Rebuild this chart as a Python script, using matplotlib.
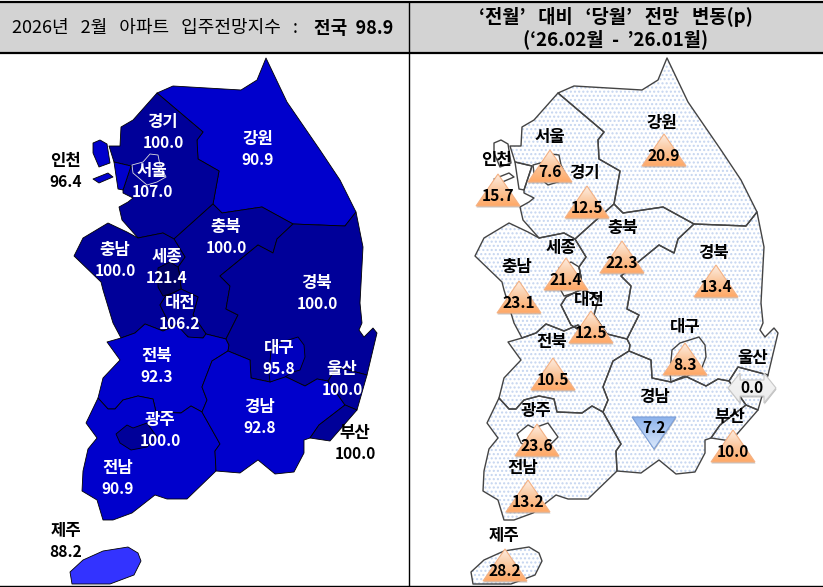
import numpy as np
import matplotlib
matplotlib.use("Agg")
import matplotlib.pyplot as plt
from matplotlib.colors import LinearSegmentedColormap
from matplotlib.patches import Polygon, Rectangle

plt.rcParams["font.family"] = ["Noto Sans CJK KR", "DejaVu Sans"]
plt.rcParams["hatch.linewidth"] = 1.0

# values
regions = ["경기", "강원", "서울", "인천", "충북", "충남", "세종", "경북", "대전",
           "전북", "대구", "울산", "경남", "부산", "광주", "전남", "제주"]
index_values = ["100.0", "90.9", "107.0", "96.4", "100.0", "100.0", "121.4", "100.0", "106.2",
                "92.3", "95.8", "100.0", "92.8", "100.0", "100.0", "90.9", "88.2"]
change_values = ["12.5", "20.9", "7.6", "15.7", "22.3", "23.1", "21.4", "13.4", "12.5",
                 "10.5", "8.3", "0.0", "7.2", "10.0", "23.6", "13.2", "28.2"]
change_dirs = ["up", "up", "up", "up", "up", "up", "up", "up", "up",
               "up", "up", "flat", "down", "up", "up", "up", "up"]

# map outlines in pixels of the left panel
shapes = {
    "강원": [(157,93),(173,86),(241,90),(257,80),(266,58),(287,102),(320,150),(340,180),(356,212),
             (345,226),(293,224),(262,207),(222,213),(213,204),(219,171),(198,159),(197,140),(203,132)],
    "경기": [(157,93),(133,120),(121,127),(120,146),(109,146),(114,162),(131,166),(123,190),(123,193),
             (133,198),(128,202),(119,207),(122,220),(138,238),(163,233),(174,239),(213,204),(219,171),
             (198,159),(197,140),(203,132)],
    "서울": [(132,165),(143,162),(150,154),(158,155),(160,165),(166,177),(157,182),(147,185),(133,173)],
    "인천": [(114,162),(131,166),(123,190),(118,189)],
    "인천2": [(93,143),(100,140),(107,144),(110,163),(99,167),(93,153)],
    "인천3": [(93,179),(108,173),(113,177),(99,183)],
    "충북": [(174,239),(213,204),(222,213),(262,207),(293,224),(277,239),(273,253),(258,245),(220,276),
             (230,286),(226,309),(238,315),(226,339),(206,334),(193,315),(198,297),(181,289),(180,277),
             (178,267),(185,257)],
    "충남": [(74,256),(83,238),(108,223),(127,232),(138,238),(163,233),(174,239),(185,257),(178,267),
             (180,277),(181,289),(173,293),(165,297),(160,305),(170,325),(183,333),(188,337),(177,325),
             (163,331),(145,324),(135,333),(121,338),(113,323),(103,290),(101,282)],
    "세종": [(158,268),(170,262),(178,267),(180,277),(181,289),(173,293),(163,296),(158,287)],
    "대전": [(173,293),(181,289),(198,297),(193,315),(206,334),(203,338),(190,338),(183,333),(170,325),
             (160,305),(165,297)],
    "전북": [(107,342),(121,338),(135,333),(145,324),(163,331),(177,325),(188,337),(203,338),(206,334),
             (226,339),(229,345),(228,351),(212,361),(202,387),(207,400),(202,412),(191,406),(181,413),
             (156,412),(153,399),(138,396),(123,400),(115,409),(108,409),(98,398),(103,378),(120,360)],
    "전남": [(98,398),(108,409),(115,409),(123,400),(138,396),(153,399),(156,412),(181,413),(191,406),
             (202,412),(220,444),(215,451),(216,471),(187,499),(167,499),(155,495),(132,513),(113,520),
             (103,520),(97,500),(82,491),(83,471),(88,449),(97,438),(86,423)],
    "광주": [(116,434),(127,425),(133,428),(147,423),(157,437),(147,447),(131,450),(120,443)],
    "경남": [(228,351),(250,360),(251,378),(270,382),(284,376),(305,386),(317,379),(328,381),(345,405),
             (319,425),(310,438),(304,440),(304,453),(294,472),(275,474),(258,460),(240,473),(216,471),
             (215,451),(220,444),(202,412),(207,400),(202,387),(212,361)],
    "경북": [(293,224),(345,226),(356,212),(363,247),(360,303),(362,323),(359,330),(364,337),(373,328),
             (377,333),(367,375),(337,367),(328,381),(317,379),(305,386),(284,376),(270,382),(251,378),
             (250,360),(228,351),(229,345),(226,339),(238,315),(226,309),(230,286),(220,276),(258,245),
             (273,253),(277,239)],
    "대구": [(271,350),(279,343),(298,337),(304,345),(305,357),(300,370),(293,372),(285,377),(270,382),(269,373)],
    "울산": [(328,381),(337,367),(367,375),(357,410),(345,405)],
    "부산": [(345,405),(357,410),(330,441),(310,438),(319,425)],
    "제주": [(70,572),(83,560),(103,551),(128,547),(138,553),(141,561),(134,575),(110,584),(87,584),(72,584)],
}

DARK = "#000099"
MID = "#0000CC"
shape_colors = {"강원": MID, "경기": DARK, "서울": DARK, "인천": MID, "인천2": MID, "인천3": MID,
                "충북": DARK, "충남": DARK, "세종": "#000066", "대전": DARK, "전북": MID, "전남": MID,
                "광주": DARK, "경남": MID, "경북": DARK, "대구": "#0000BE", "울산": DARK, "부산": DARK,
                "제주": "#3333FF"}
# these sit white on the right map
plain_shapes = ["서울", "인천", "인천2", "인천3", "세종", "광주"]

name_pos = {"경기": (163,122), "강원": (258,139), "서울": (152,171), "인천": (66,161), "충북": (226,227),
            "충남": (115,250), "세종": (167,257), "경북": (317,283), "대전": (180,303), "전북": (157,356),
            "대구": (279,348), "울산": (342,369), "경남": (260,407), "부산": (355,433), "광주": (160,420),
            "전남": (118,468), "제주": (66,531)}
black_names = ["인천", "부산", "제주"]

# right panel: label centre, then arrow x and base y
right_label_pos = {"경기": (585,173), "강원": (662,123), "서울": (550,137), "인천": (497,160), "충북": (623,228),
                   "충남": (517,267), "세종": (561,248), "경북": (714,253), "대전": (589,300), "전북": (552,342),
                   "대구": (685,327), "울산": (753,358), "경남": (655,397), "부산": (730,417), "광주": (536,411),
                   "전남": (523,468), "제주": (504,536)}
arrow_pos = {"경기": (587,218), "강원": (664,166), "서울": (550,182), "인천": (498,206), "충북": (622,273),
             "충남": (519,313), "세종": (566,290), "경북": (716,297), "대전": (591,343), "전북": (553,390),
             "대구": (685,375), "울산": (752,388), "경남": (654,417), "부산": (733,462), "광주": (537,456),
             "전남": (528,512), "제주": (505,581)}
MAP_SHIFT = 401
NAME_SIZE = 12
VALUE_SIZE = 11.2

fig = plt.figure(figsize=(8.23, 5.87), dpi=100)
ax = fig.add_axes([0, 0, 1, 1])
ax.set_xlim(0, 823)
ax.set_ylim(587, 0)
ax.axis("off")

# header boxes and frame
ax.add_patch(Rectangle((0, 2), 823, 51, fc="#D3D3D3", ec="none", zorder=1))
ax.plot([0, 823], [1.5, 1.5], color="black", lw=1.6, zorder=2)
ax.plot([0, 823], [53, 53], color="black", lw=1.6, zorder=2)
ax.plot([0, 823], [586, 586], color="black", lw=1.0, zorder=2)
ax.plot([409.5, 409.5], [2, 586], color="black", lw=1.0, zorder=2)

ax.text(12, 28, "2026년   2월   아파트   입주전망지수   :", fontsize=13, va="center", ha="left", zorder=5)
ax.text(393, 28, "전국  98.9", fontsize=13, va="center", ha="right", weight="bold", zorder=5)
ax.text(616, 17, "‘전월’   대비   ‘당월’   전망   변동(p)", fontsize=13.5, va="center", ha="center", weight="bold", zorder=5)
ax.text(616, 39, "(‘26.02월  -  ’26.01월)", fontsize=13.5, va="center", ha="center", weight="bold", zorder=5)

# left map
draw_order = ["강원", "경기", "서울", "인천", "인천2", "인천3", "충북", "충남", "세종", "대전", "전북",
              "전남", "광주", "경북", "경남", "대구", "울산", "부산", "제주"]
for name in draw_order:
    edge = "#DDDDDD" if name == "서울" else "black"
    ax.add_patch(Polygon(shapes[name], closed=True, fc=shape_colors[name], ec=edge,
                         lw=0.6, joinstyle="round", zorder=3))

for name, value in zip(regions, index_values):
    x, y = name_pos[name]
    color = "black" if name in black_names else "white"
    ax.text(x, y, name, color=color, fontsize=NAME_SIZE, weight="bold", ha="center", va="center", zorder=5)
    ax.text(x, y + 21, value, color=color, fontsize=VALUE_SIZE, weight="bold", ha="center", va="center", zorder=5)

# right map, dotted fill
for name in draw_order:
    pts = [(px + MAP_SHIFT, py) for px, py in shapes[name]]
    ax.add_patch(Polygon(pts, closed=True, fc="white", ec="none", zorder=3))
    if name not in plain_shapes:
        ax.add_patch(Polygon(pts, closed=True, fc="none", ec="#C5D5F0", hatch="....", lw=0, zorder=3))
    ax.add_patch(Polygon(pts, closed=True, fc="none", ec="#444444", lw=1.0, joinstyle="round", zorder=4))

up_cmap = LinearSegmentedColormap.from_list("up", ["#FDEDE1", "#FBC79D", "#FFA866"])
down_cmap = LinearSegmentedColormap.from_list("down", ["#8DB3EC", "#DCE9FB"])
flat_cmap = LinearSegmentedColormap.from_list("flat", ["#F4F4F4", "#EDEDED"])
gradient = np.linspace(0, 1, 64).reshape(-1, 1)


def draw_arrow(x, y, kind):
    if kind == "up":
        pts = [(x, y - 32), (x + 22, y), (x - 22, y)]
        cmap, edge = up_cmap, "#F4B183"
        top, bottom = y - 32, y
    elif kind == "down":
        pts = [(x - 22, y), (x + 22, y), (x, y + 32)]
        cmap, edge = down_cmap, "#7C9FD8"
        top, bottom = y, y + 32
    else:
        pts = [(x - 24, y), (x - 12, y - 15), (x - 12, y - 8), (x + 12, y - 8), (x + 12, y - 15),
               (x + 24, y), (x + 12, y + 15), (x + 12, y + 8), (x - 12, y + 8), (x - 12, y + 15)]
        cmap, edge = flat_cmap, "#C8C8C8"
        top, bottom = y - 15, y + 15
    shadow = [(px + 0.5, py + 1.5) for px, py in pts]
    ax.add_patch(Polygon(shadow, closed=True, fc="#777777", ec="none", alpha=0.45, zorder=5))
    tri = Polygon(pts, closed=True, fc="none", ec=edge, lw=0.8, zorder=6.1)
    ax.add_patch(tri)
    left = min(p[0] for p in pts)
    right = max(p[0] for p in pts)
    im = ax.imshow(gradient, cmap=cmap, extent=(left, right, bottom, top), aspect="auto", zorder=6)
    im.set_clip_path(tri)


for name, value, kind in zip(regions, change_values, change_dirs):
    x, y = right_label_pos[name]
    ax.text(x, y, name, fontsize=NAME_SIZE, weight="bold", ha="center", va="center", zorder=8)
    ax_, ay = arrow_pos[name]
    draw_arrow(ax_, ay, kind)
    if kind == "up":
        ty = ay - 10
    elif kind == "down":
        ty = ay + 11
    else:
        ty = ay
    ax.text(ax_, ty, value, fontsize=VALUE_SIZE, weight="bold", ha="center", va="center", zorder=8)

ax.set_xlim(0, 823)
ax.set_ylim(587, 0)
fig.savefig("out.png", dpi=100)
